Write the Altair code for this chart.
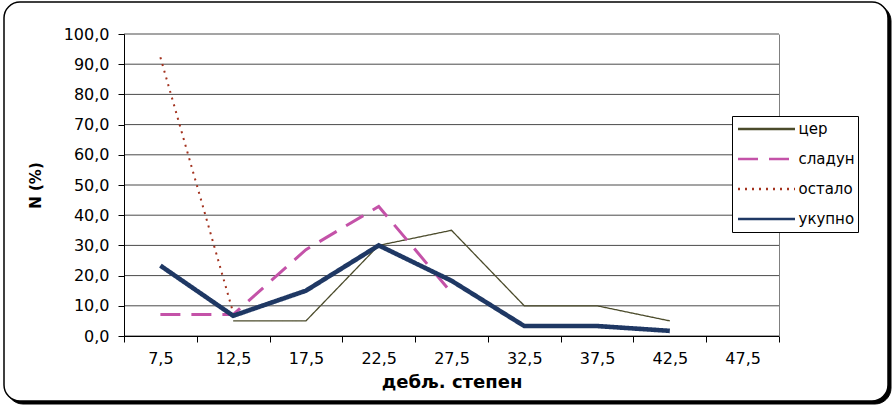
import altair as alt
import pandas as pd

# Diameter classes (category axis) and share of trees per class, in percent
categories = ["7,5", "12,5", "17,5", "22,5", "27,5", "32,5", "37,5", "42,5", "47,5"]
series_names = ["цер", "сладун", "остало", "укупно"]

cer = [None, 5.0, 5.0, 30.0, 35.0, 10.0, 10.0, 5.0, None]
sladun = [7.1, 7.1, 28.6, 42.9, 14.3, None, None, None, None]
ostalo = [92.3, 7.7, None, None, None, None, None, None, None]
ukupno = [23.3, 6.7, 15.0, 30.0, 18.3, 3.3, 3.3, 1.7, None]

y_ticks = [0, 10, 20, 30, 40, 50, 60, 70, 80, 90, 100]

# Line styling per series
series_colors = ["#4b4b2b", "#c452a8", "#a3321e", "#1f3864"]
series_dashes = [[1, 0], [20, 11], [2, 5], [1, 0]]
series_widths = [1.3, 3.0, 2.0, 4.6]

rows = []
for name, values, w in zip(series_names, [cer, sladun, ostalo, ukupno], series_widths):
    for cat, v in zip(categories, values):
        if v is not None:
            rows.append({"deb": cat, "series": name, "pct": v, "w": w})
lines_df = pd.DataFrame(rows)
grid_df = pd.DataFrame({"v": y_ticks})
frame_df = pd.DataFrame({"k": [0]})

font = "DejaVu Sans"
y_scale = alt.Scale(domain=[0, 100], nice=False, zero=True)

legend = alt.Legend(
    title=None,
    orient="none",
    legendX=608,
    legendY=82,
    fillColor="white",
    strokeColor="black",
    padding=3,
    symbolType="stroke",
    symbolSize=3249,
    symbolOffset=1.5,
    symbolStrokeWidth=2.5,
    clipHeight=20,
    labelFont=font,
    labelFontSize=15,
    labelColor="black",
    labelOffset=2,
    rowPadding=10,
    zindex=1,
)

# Rounded chart frame with a drop shadow
shadow = alt.Chart(frame_df).mark_rect(
    cornerRadius=16, fill="black", stroke="black"
).encode(
    x=alt.value(-117), x2=alt.value(767), y=alt.value(-29), y2=alt.value(370)
)
frame = alt.Chart(frame_df).mark_rect(
    cornerRadius=16, fill="white", stroke="black", strokeWidth=1.5
).encode(
    x=alt.value(-120), x2=alt.value(764), y=alt.value(-32), y2=alt.value(367)
)

grid = alt.Chart(grid_df).mark_rule(color="#4a4a4a", strokeWidth=1).encode(
    y=alt.Y(
        "v:Q",
        scale=y_scale,
        axis=alt.Axis(
            orient="right", labels=False, ticks=False, title=None, grid=False,
            domainColor="#808080", zindex=1,
        ),
    )
)

lines = alt.Chart(lines_df).mark_line(strokeJoin="miter").encode(
    x=alt.X(
        "deb:O",
        sort=categories,
        scale=alt.Scale(type="band", domain=categories, paddingInner=0, paddingOuter=0),
        axis=alt.Axis(
            title="дебљ. степен",
            titleFont=font,
            titleFontSize=18,
            titleFontWeight="bold",
            titleColor="black",
            titlePadding=7,
            labelFont=font,
            labelFontSize=16,
            labelColor="black",
            labelAngle=0,
            labelPadding=8,
            tickBand="extent",
            tickSize=6,
            tickColor="black",
            domainColor="black",
            grid=False,
            zindex=1,
        ),
    ),
    y=alt.Y(
        "pct:Q",
        scale=y_scale,
        axis=alt.Axis(
            values=y_ticks,
            title="N (%)",
            titleFont=font,
            titleFontSize=15,
            titleFontWeight="bold",
            titleColor="black",
            titlePadding=20,
            labelFont=font,
            labelFontSize=16,
            labelColor="black",
            labelPadding=9,
            labelExpr="replace(format(datum.value, '.1f'), '.', ',')",
            tickSize=6,
            tickColor="black",
            domainColor="black",
            grid=False,
            zindex=1,
        ),
    ),
    color=alt.Color(
        "series:N", scale=alt.Scale(domain=series_names, range=series_colors), legend=legend
    ),
    strokeDash=alt.StrokeDash(
        "series:N", scale=alt.Scale(domain=series_names, range=series_dashes), legend=legend
    ),
    strokeWidth=alt.StrokeWidth("w:Q", scale=None, legend=None),
    detail="series:N",
)

chart = (
    alt.layer(shadow, frame, grid, lines)
    .resolve_axis(y="independent")
    .properties(
        width=655,
        height=302,
        autosize=alt.AutoSizeParams(type="none"),
        padding={"left": 124, "top": 34, "right": 113, "bottom": 72},
        background="white",
    )
    .configure_view(stroke=None)
)

chart.save("out.html", embed_options={"renderer": "svg", "actions": False})
